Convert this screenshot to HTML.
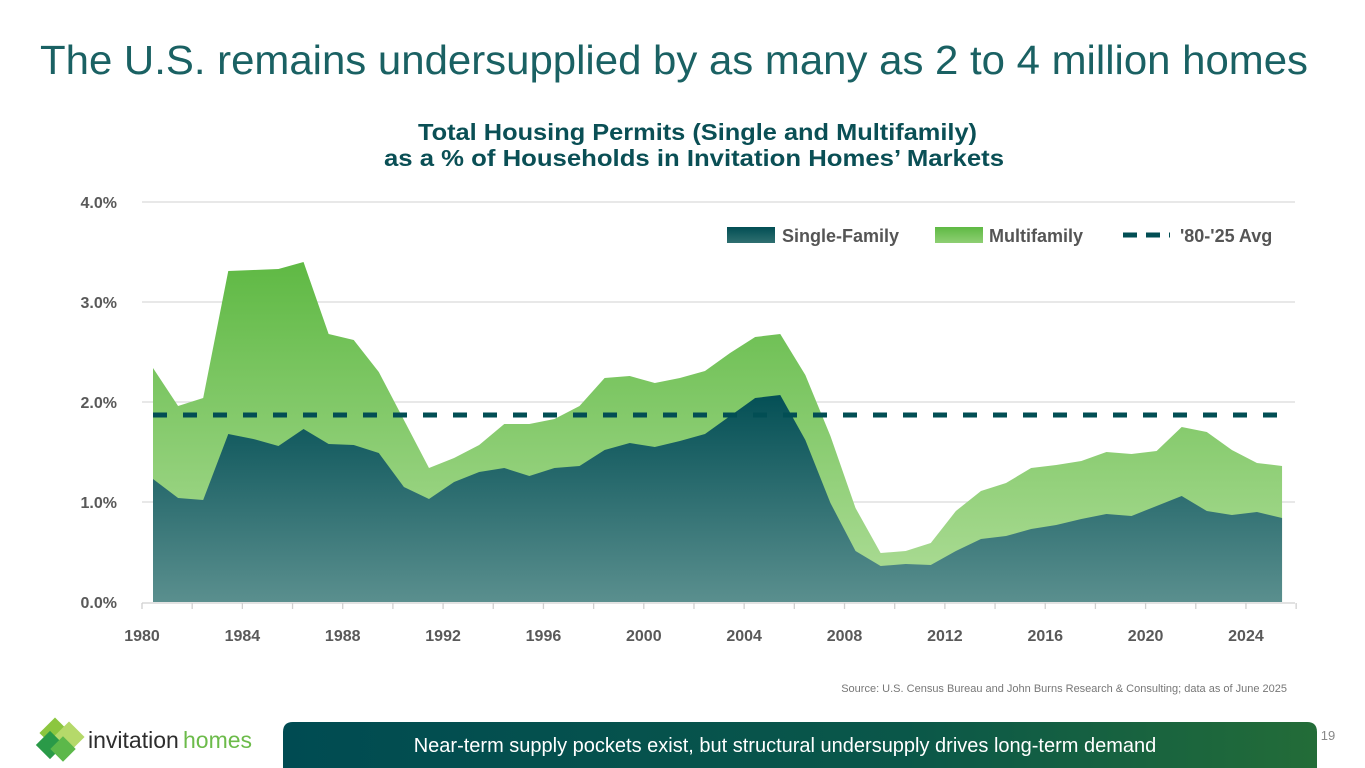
<!DOCTYPE html>
<html><head><meta charset="utf-8"><style>
html,body{margin:0;padding:0;background:#fff;}
svg{display:block;font-family:"Liberation Sans",sans-serif;}
</style></head><body>
<svg width="1365" height="768" viewBox="0 0 1365 768">
<defs>
<linearGradient id="gSF" gradientUnits="userSpaceOnUse" x1="0" y1="390" x2="0" y2="602"><stop offset="0" stop-color="#024e54"/><stop offset="1" stop-color="#5a8f8e"/></linearGradient>
<linearGradient id="gMF" gradientUnits="userSpaceOnUse" x1="0" y1="262" x2="0" y2="560"><stop offset="0" stop-color="#5fb944"/><stop offset="1" stop-color="#a6d98f"/></linearGradient>
<linearGradient id="gBan" x1="0" y1="0" x2="1" y2="0"><stop offset="0" stop-color="#004b52"/><stop offset="0.6" stop-color="#0a5749"/><stop offset="1" stop-color="#236c38"/></linearGradient>
<linearGradient id="lgSF" x1="0" y1="0" x2="0" y2="1"><stop offset="0" stop-color="#024e54"/><stop offset="1" stop-color="#2f6f70"/></linearGradient>
<linearGradient id="lgMF" x1="0" y1="0" x2="0" y2="1"><stop offset="0" stop-color="#5fb944"/><stop offset="1" stop-color="#8fcf74"/></linearGradient>
</defs>
<text x="40" y="74" font-size="41" fill="#1a6163" textLength="1268" lengthAdjust="spacingAndGlyphs">The U.S. remains undersupplied by as many as 2 to 4 million homes</text>
<text x="418" y="140" font-size="23" font-weight="bold" fill="#0a4f55" textLength="559" lengthAdjust="spacingAndGlyphs">Total Housing Permits (Single and Multifamily)</text>
<text x="384" y="166" font-size="23" font-weight="bold" fill="#0a4f55" textLength="620" lengthAdjust="spacingAndGlyphs">as a % of Households in Invitation Homes’ Markets</text>
<g id="grid"></g>
<g id="areas"></g>
<g id="axes"></g>
<g>
<rect x="727" y="227" width="48" height="16" fill="url(#lgSF)"/>
<text x="782" y="242" font-size="18" font-weight="bold" fill="#555">Single-Family</text>
<rect x="935" y="227" width="48" height="16" fill="url(#lgMF)"/>
<text x="989" y="242" font-size="18" font-weight="bold" fill="#555">Multifamily</text>
<line x1="1123" y1="235" x2="1170" y2="235" stroke="#024e54" stroke-width="5" stroke-dasharray="14,9"/>
<text x="1180" y="242" font-size="18" font-weight="bold" fill="#555">'80-'25 Avg</text>
</g>
<text x="1287" y="692" font-size="11" fill="#777" text-anchor="end">Source: U.S. Census Bureau and John Burns Research &amp; Consulting; data as of June 2025</text>
<g>
<rect x="44" y="722" width="22" height="22" fill="#8cc63f" transform="rotate(45 55 733)"/>
<rect x="58" y="726" width="22" height="22" fill="#b5d96a" transform="rotate(45 69 737)"/>
<rect x="40" y="735" width="20" height="20" fill="#2a9a48" transform="rotate(45 50 745)"/>
<rect x="54" y="740" width="18" height="18" fill="#5cb84a" transform="rotate(45 63 749)"/>
<text x="88" y="748" font-size="23" fill="#2d2d2d">invitation</text>
<text x="183" y="748" font-size="23" fill="#6cbb4a">homes</text>
</g>
<path d="M283,768 V732 Q283,722 293,722 H1307 Q1317,722 1317,732 V768 Z" fill="url(#gBan)"/>
<text x="785" y="752" font-size="20" fill="#fff" text-anchor="middle">Near-term supply pockets exist, but structural undersupply drives long-term demand</text>
<text x="1328" y="740" font-size="13" fill="#888" text-anchor="middle">19</text>
</svg>
<script>
const years = [1980,1981,1982,1983,1984,1985,1986,1987,1988,1989,1990,1991,1992,1993,1994,1995,1996,1997,1998,1999,2000,2001,2002,2003,2004,2005,2006,2007,2008,2009,2010,2011,2012,2013,2014,2015,2016,2017,2018,2019,2020,2021,2022,2023,2024,2025];
const singleFamily = [1.23,1.04,1.02,1.68,1.63,1.56,1.73,1.58,1.57,1.49,1.15,1.03,1.20,1.30,1.34,1.26,1.34,1.36,1.52,1.59,1.55,1.61,1.68,1.86,2.04,2.07,1.62,0.99,0.51,0.36,0.38,0.37,0.51,0.63,0.66,0.73,0.77,0.83,0.88,0.86,0.96,1.06,0.91,0.87,0.90,0.84];
const multifamily = [1.11,0.92,1.02,1.63,1.69,1.77,1.67,1.10,1.05,0.81,0.67,0.31,0.24,0.27,0.44,0.52,0.49,0.60,0.72,0.67,0.64,0.63,0.63,0.63,0.61,0.61,0.65,0.67,0.43,0.13,0.13,0.22,0.40,0.48,0.53,0.61,0.60,0.58,0.62,0.62,0.55,0.69,0.79,0.65,0.49,0.52];
const avgValue = 1.87;
const yTicks = [0,1,2,3,4];
const yTickLabels = ["0.0%","1.0%","2.0%","3.0%","4.0%"];
const xTickLabels = [1980,1984,1988,1992,1996,2000,2004,2008,2012,2016,2020,2024];

const NS = "http://www.w3.org/2000/svg";
const X0 = 153, DX = 25.09, Y0 = 602, PPU = 100;
function xs(yr){ return X0 + (yr - years[0]) * DX; }
function ys(v){ return Y0 - v * PPU; }
function mk(tag, attrs, parent){ const e=document.createElementNS(NS,tag); for(const k in attrs) e.setAttribute(k,attrs[k]); parent.appendChild(e); return e; }

const grid = document.getElementById('grid');
yTicks.forEach((t,i)=>{
  if(t>0){
    const l = mk('line',{x1:142,x2:1295,y1:ys(t),y2:ys(t),stroke:'#d9d9d9','stroke-width':1.3},grid);
    
    
  }
  const tx = mk('text',{x:117,y:ys(t)+6,'font-size':16,'font-weight':'bold',fill:'#595959','text-anchor':'end'},grid);
  tx.textContent = yTickLabels[i];
  
  
});

const areas = document.getElementById('areas');
const totals = years.map((y,i)=>singleFamily[i]+multifamily[i]);
let dT = 'M'+xs(years[0])+','+Y0;
years.forEach((y,i)=>{ dT += ' L'+xs(y)+','+ys(totals[i]); });
dT += ' L'+xs(years[years.length-1])+','+Y0+' Z';
const mf = mk('path',{d:dT,fill:'url(#gMF)'},areas);


let dS = 'M'+xs(years[0])+','+Y0;
years.forEach((y,i)=>{ dS += ' L'+xs(y)+','+ys(singleFamily[i]); });
dS += ' L'+xs(years[years.length-1])+','+Y0+' Z';
const sf = mk('path',{d:dS,fill:'url(#gSF)'},areas);


const av = mk('line',{x1:xs(years[0]),x2:xs(years[years.length-1]),y1:ys(avgValue),y2:ys(avgValue),stroke:'#024e54','stroke-width':5,'stroke-dasharray':'14,16'},areas);



const axes = document.getElementById('axes');
const base = mk('line',{x1:142,x2:1295,y1:603,y2:603,stroke:'#d0d0d0','stroke-width':1.3},axes);


for(let k=0;k<=23;k++){
  const tk = mk('line',{x1:142+k*50.18,x2:142+k*50.18,y1:603,y2:609,stroke:'#d0d0d0','stroke-width':1.3},axes);
  
  
}
xTickLabels.forEach(yr=>{
  const tx = mk('text',{x:xs(yr)-11,y:641,'font-size':16,'font-weight':'bold',fill:'#595959','text-anchor':'middle'},axes);
  tx.textContent = yr;
  
  
});
</script>
</body></html>
